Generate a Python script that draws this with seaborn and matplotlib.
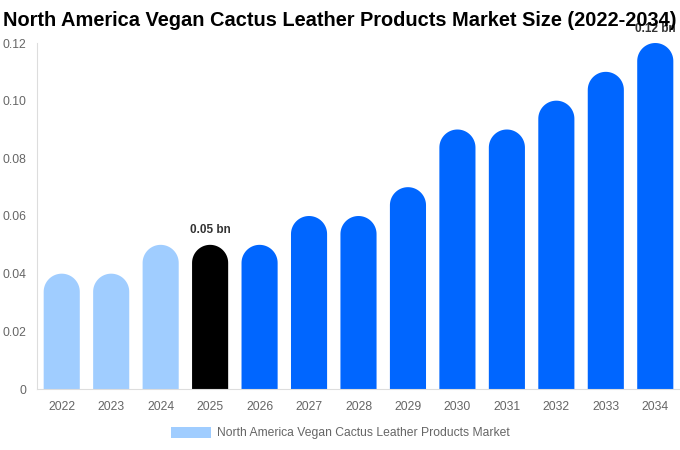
import matplotlib
matplotlib.use("Agg")
import matplotlib.pyplot as plt
from matplotlib.patches import Polygon, Patch
import numpy as np
import seaborn as sns

# chart data
years = ["2022", "2023", "2024", "2025", "2026", "2027", "2028",
         "2029", "2030", "2031", "2032", "2033", "2034"]
sizes = [0.04, 0.04, 0.05, 0.05, 0.05, 0.06, 0.06, 0.07, 0.09, 0.09, 0.10, 0.11, 0.12]
bar_colors = ["#a0cdff"] * 3 + ["#000000"] + ["#0066ff"] * 9
labelled = {"2025": "0.05 bn", "2034": "0.12 bn"}
series_name = "North America Vegan Cactus Leather Products Market"

sns.set_theme(style="white")
plt.rcParams["font.family"] = ["Liberation Sans", "DejaVu Sans"]

fig = plt.figure(figsize=(6.8, 4.5), dpi=100)
ax = fig.add_axes([37 / 680, 61 / 450, 643 / 680, 346 / 450])

sns.barplot(x=years, y=sizes, hue=years, palette=bar_colors, legend=False,
            width=0.73, saturation=1, linewidth=0, ax=ax)
ax.set_ylim(0, 0.12)
ax.set_xlim(-0.5, len(years) - 0.5)

# turn each seaborn bar into one outline with a rounded top
# (radius = half the bar width in pixels, converted to data units)
fig.canvas.draw()
px_per_y = ax.bbox.height / 0.12
t = np.linspace(0, np.pi, 40)
for patch in ax.patches[:]:
    x, w, h = patch.get_x(), patch.get_width(), patch.get_height()
    r_px = w * ax.bbox.width / len(years) / 2
    ry = r_px / px_per_y
    cx, cy = x + w / 2, h - ry
    arc = np.column_stack([cx + w / 2 * np.cos(t), cy + ry * np.sin(t)])
    outline = np.vstack([[x + w, 0], arc, [x, 0]])
    ax.add_patch(Polygon(outline, closed=True, facecolor=patch.get_facecolor(),
                         edgecolor="none", linewidth=0, clip_on=False))
    patch.set_visible(False)

for i, yr in enumerate(years):
    if yr in labelled:
        ax.text(i, sizes[i] + 0.0029, labelled[yr], ha="center", va="bottom",
                fontsize=8.5, fontweight="bold", color="#333333")

ax.set_yticks([0, 0.02, 0.04, 0.06, 0.08, 0.10, 0.12])
ax.set_yticklabels(["0", "0.02", "0.04", "0.06", "0.08", "0.10", "0.12"])
ax.tick_params(axis="both", length=0, labelsize=8.7, colors="#666666")
ax.tick_params(axis="x", pad=9)
ax.tick_params(axis="y", pad=8)
for side in ["top", "right"]:
    ax.spines[side].set_visible(False)
for side in ["left", "bottom"]:
    ax.spines[side].set_color("#dddddd")
    ax.spines[side].set_linewidth(0.8)
    ax.spines[side].set_zorder(3)
ax.set_xlabel("")
ax.set_ylabel("")

fig.text(3 / 680, 1 - 21 / 450, "North America Vegan Cactus Leather Products Market Size (2022-2034)",
         ha="left", va="center", fontsize=14.4, fontweight="bold", color="#000000")

handle = Patch(facecolor="#a0cdff", edgecolor="none")
fig.legend([handle], [series_name], loc="center", bbox_to_anchor=(0.5, 1 - 433 / 450),
           frameon=False, fontsize=8.7, labelcolor="#666666",
           handlelength=3.3, handleheight=1.0, handletextpad=0.5)

fig.savefig("out.png", dpi=100)
